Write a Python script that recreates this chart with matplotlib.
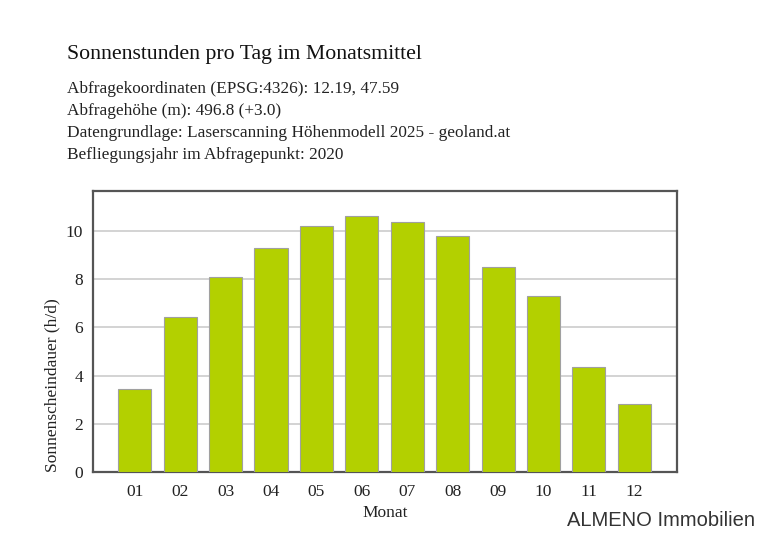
import matplotlib
matplotlib.use("Agg")
import matplotlib.pyplot as plt

# Monthly mean sunshine hours per day
months = ["01", "02", "03", "04", "05", "06", "07", "08", "09", "10", "11", "12"]
hours = [3.44, 6.43, 8.09, 9.29, 10.2, 10.62, 10.37, 9.79, 8.5, 7.3, 4.36, 2.82]

title = "Sonnenstunden pro Tag im Monatsmittel"
info_lines = [
    "Abfragekoordinaten (EPSG:4326): 12.19, 47.59",
    "Abfragehöhe (m): 496.8 (+3.0)",
    "Datengrundlage: Laserscanning Höhenmodell 2025 - geoland.at",
    "Befliegungsjahr im Abfragepunkt: 2020",
]

plt.rcParams["font.family"] = ["Liberation Serif", "DejaVu Serif"]

fig = plt.figure(figsize=(7.7, 5.4), dpi=100)
W, H = 770, 540
# axes box in pixel coords: left 93, right 677, top 191, bottom 472
ax = fig.add_axes([93 / W, 1 - 472 / H, (677 - 93) / W, (472 - 191) / H])

x = range(len(months))
ax.bar(x, hours, width=0.73, color="#b3d000", edgecolor="#a0a0a0", linewidth=0.8, zorder=3)

ax.set_xlim(-0.92, 11.94)
ax.set_ylim(0, 11.66)
ax.set_yticks([0, 2, 4, 6, 8, 10])
ax.set_xticks(list(x))
ax.set_xticklabels(months)
ax.yaxis.grid(True, color="#cccccc", linewidth=1.2, zorder=0)
ax.tick_params(axis="both", length=0, labelsize=12.5, colors="#222222")
ax.tick_params(axis="x", pad=9)
ax.tick_params(axis="y", pad=7)
for side in ["top", "right", "left", "bottom"]:
    ax.spines[side].set_color("#555555")
    ax.spines[side].set_linewidth(1.6)

ax.set_xlabel("Monat", fontsize=12.5, color="#222222", labelpad=3)
ax.set_ylabel("Sonnenscheindauer (h/d)", fontsize=12.5, color="#222222", labelpad=4,
              loc="bottom")

fig.text(67 / W, 1 - 55 / H, title, fontsize=15.7, color="#111111", va="center", ha="left")
for i, line in enumerate(info_lines):
    fig.text(67 / W, 1 - (89 + 22 * i) / H, line, fontsize=12.4, color="#222222",
             va="center", ha="left")

fig.text(755 / W, 1 - 521 / H, "ALMENO Immobilien", fontsize=14.5, color="#333333",
         family=["Liberation Sans", "DejaVu Sans"], ha="right", va="center")

fig.savefig("out.png", dpi=100)
